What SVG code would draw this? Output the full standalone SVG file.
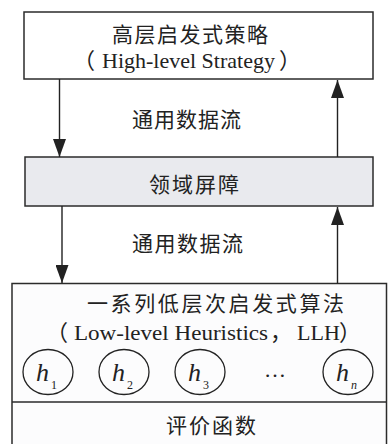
<svg xmlns="http://www.w3.org/2000/svg" width="388" height="444" viewBox="0 0 388 444">
<style>
.box{stroke:#2b2b2b;stroke-width:1.5}
.cn{font-family:"Noto Sans CJK SC","Liberation Serif",serif;font-size:21px;fill:#222}
.lat{font-family:"Liberation Serif","Noto Sans CJK SC",serif;font-size:22px;fill:#222}
.par{font-family:"Noto Sans CJK SC",serif;font-size:22px;fill:#222}
.conn{stroke:#222;stroke-width:1.4;fill:none}
.h{font-family:"Liberation Serif",serif;font-style:italic;font-size:26px;fill:#222}
.sub{font-family:"Liberation Serif",serif;font-size:12px;fill:#222}
.circ{fill:none;stroke:#222;stroke-width:1.3}
</style>
<defs>
<marker id="arr" viewBox="0 0 18 13" refX="18" refY="6.5" markerWidth="18" markerHeight="13" orient="auto" markerUnits="userSpaceOnUse">
<path d="M0,0 L18,6.5 L0,13 Z" fill="#222"/>
</marker>
</defs>
<rect width="388" height="444" fill="#fff"/>
<g id="top">
<rect class="box" x="24" y="12" width="349" height="67" fill="#fff"/>
<text class="cn" x="112" y="41.5" letter-spacing="1.5">高层启发式策略</text>
<text class="lat" y="68"><tspan class="par" x="73">（</tspan><tspan x="102">High-level Strategy</tspan><tspan class="par" x="279">）</tspan></text>
</g>
<g id="barrier">
<rect class="box" x="25" y="157" width="348" height="49" fill="#e9eaee"/>
<text class="cn" x="149" y="191.5" letter-spacing="2">领域屏障</text>
</g>
<g id="llh">
<rect class="box" x="12" y="283.5" width="374.5" height="170" fill="#fcfcfd"/>
<line class="box" x1="12" y1="402" x2="386.5" y2="402"/>
<text class="cn" x="87" y="311" font-size="19.5" letter-spacing="2.6">一系列低层次启发式算法</text>
<text class="lat" y="339.5"><tspan class="par" x="46" font-size="20">（</tspan><tspan x="74" textLength="194" lengthAdjust="spacingAndGlyphs">Low-level Heuristics</tspan><tspan class="par" x="270" font-size="17">，</tspan><tspan x="297">LLH</tspan><tspan class="par" x="339" font-size="20">）</tspan></text>
<g id="h1"><ellipse class="circ" cx="48" cy="372" rx="25" ry="22.5"/><text class="h" x="36" y="381">h</text><text class="sub" x="51" y="389">1</text></g>
<g id="h2"><ellipse class="circ" cx="124" cy="372" rx="25" ry="22.5"/><text class="h" x="112" y="381">h</text><text class="sub" x="127" y="389">2</text></g>
<g id="h3"><ellipse class="circ" cx="200" cy="372" rx="25" ry="22.5"/><text class="h" x="188" y="381">h</text><text class="sub" x="203" y="389">3</text></g>
<text class="lat" x="275" y="377" text-anchor="middle" font-size="26">…</text>
<g id="hn"><ellipse class="circ" cx="348" cy="372" rx="25" ry="22.5"/><text class="h" x="336" y="381">h</text><text class="sub" x="351" y="389" font-style="italic">n</text></g>
</g>
<g id="eval">
<text class="cn" x="166" y="433" letter-spacing="2">评价函数</text>
</g>
<g id="connectors">
<line class="conn" x1="59.5" y1="79" x2="59.5" y2="157" marker-end="url(#arr)"/>
<line class="conn" x1="337.5" y1="157" x2="337.5" y2="80" marker-end="url(#arr)"/>
<line class="conn" x1="62" y1="206" x2="62" y2="283" marker-end="url(#arr)"/>
<line class="conn" x1="337.5" y1="283.5" x2="337.5" y2="207" marker-end="url(#arr)"/>
<text class="cn" x="132" y="126.5" letter-spacing="1">通用数据流</text>
<text class="cn" x="132" y="250.5" letter-spacing="1.5">通用数据流</text>
</g>
</svg>
